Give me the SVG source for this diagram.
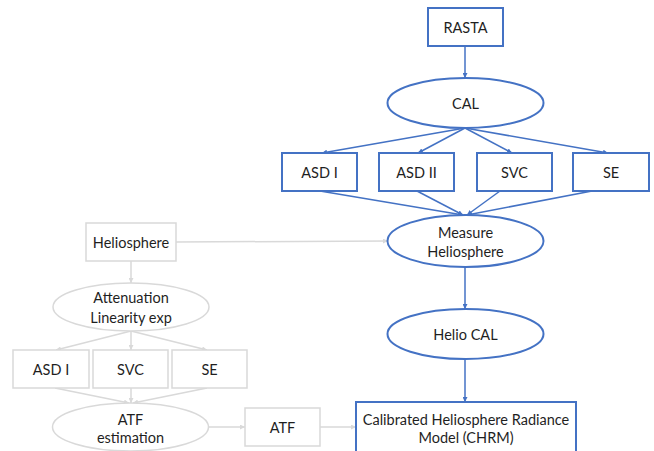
<svg xmlns="http://www.w3.org/2000/svg" width="654" height="451" viewBox="0 0 654 451">
<defs>
<style>
.b{fill:#fff;stroke:#4472C4;stroke-width:2}
.g{fill:#fff;stroke:#D9D9D9;stroke-width:1.5}
.t{font-family:Lato,"Open Sans","Liberation Sans",sans-serif;font-size:14.5px;fill:#1f1f1f;text-anchor:middle;dominant-baseline:central}
.cb{stroke:#4472C4;stroke-width:1.5;fill:none;marker-end:url(#ab)}
.cg{stroke:#D9D9D9;stroke-width:1.5;fill:none;marker-end:url(#ag)}
</style>
<marker id="ab" viewBox="0 0 10 10" refX="10" refY="5" markerWidth="5" markerHeight="5" orient="auto" markerUnits="userSpaceOnUse"><path d="M0,0L10,5L0,10z" fill="#4472C4"/></marker>
<marker id="ag" viewBox="0 0 10 10" refX="10" refY="5" markerWidth="5" markerHeight="5" orient="auto" markerUnits="userSpaceOnUse"><path d="M0,0L10,5L0,10z" fill="#D9D9D9"/></marker>
</defs>
<rect width="654" height="451" fill="#fff"/>
<g id="connectors">
<line class="cb" x1="465" y1="46" x2="465" y2="78"/>
<line class="cb" x1="465" y1="128" x2="322" y2="153"/>
<line class="cb" x1="465" y1="128" x2="418" y2="153"/>
<line class="cb" x1="465" y1="128" x2="512" y2="153"/>
<line class="cb" x1="465" y1="128" x2="608" y2="153"/>
<line class="cb" x1="320" y1="191" x2="463" y2="215"/>
<line class="cb" x1="417" y1="191" x2="463" y2="215"/>
<line class="cb" x1="500" y1="191" x2="467" y2="215"/>
<line class="cb" x1="592" y1="191" x2="467" y2="215"/>
<line class="cb" x1="465" y1="267" x2="465" y2="309"/>
<line class="cb" x1="465" y1="359" x2="465" y2="402"/>
<line class="cg" x1="176" y1="242" x2="388" y2="241"/>
<line class="cg" x1="131" y1="261" x2="131" y2="283"/>
<line class="cg" x1="131" y1="331" x2="56" y2="350"/>
<line class="cg" x1="131" y1="331" x2="131" y2="350"/>
<line class="cg" x1="131" y1="331" x2="207" y2="350"/>
<line class="cg" x1="55" y1="388" x2="129" y2="403"/>
<line class="cg" x1="131" y1="388" x2="131" y2="403"/>
<line class="cg" x1="207" y1="388" x2="133" y2="403"/>
<line class="cg" x1="209" y1="427" x2="245" y2="427"/>
<line class="cg" x1="320" y1="427" x2="356" y2="427"/>
</g>
<g id="rasta"><rect class="b" x="428" y="8" width="75" height="38"/><text class="t" x="465.5" y="27">RASTA</text></g>
<g id="cal"><ellipse class="b" cx="465.5" cy="103" rx="78" ry="25"/><text class="t" x="465.5" y="103">CAL</text></g>
<g id="asd1"><rect class="b" x="282" y="153" width="75" height="38"/><text class="t" x="319.5" y="172">ASD I</text></g>
<g id="asd2"><rect class="b" x="379" y="153" width="75" height="38"/><text class="t" x="416.5" y="172">ASD II</text></g>
<g id="svc"><rect class="b" x="477" y="153" width="75" height="38"/><text class="t" x="514.5" y="172">SVC</text></g>
<g id="se"><rect class="b" x="573" y="153" width="76" height="38"/><text class="t" x="611" y="172">SE</text></g>
<g id="measure"><ellipse class="b" cx="465.5" cy="241" rx="78" ry="26"/><text class="t" x="465.5" y="232">Measure</text><text class="t" x="465.5" y="251">Heliosphere</text></g>
<g id="heliocal"><ellipse class="b" cx="465.5" cy="334" rx="78" ry="25"/><text class="t" x="465.5" y="334">Helio CAL</text></g>
<g id="chrm"><rect class="b" x="356" y="402" width="220" height="60"/><text class="t" x="466" y="419">Calibrated Heliosphere Radiance</text><text class="t" x="466" y="437">Model (CHRM)</text></g>
<g id="helio"><rect class="g" x="86" y="223" width="90" height="38"/><text class="t" x="131" y="242">Heliosphere</text></g>
<g id="atten"><ellipse class="g" cx="131" cy="307" rx="78" ry="24"/><text class="t" x="131" y="297">Attenuation</text><text class="t" x="131" y="317">Linearity exp</text></g>
<g id="lasd1"><rect class="g" x="13" y="350" width="76" height="38"/><text class="t" x="51" y="369">ASD I</text></g>
<g id="lsvc"><rect class="g" x="93" y="350" width="75" height="38"/><text class="t" x="130.5" y="369">SVC</text></g>
<g id="lse"><rect class="g" x="172" y="350" width="75" height="38"/><text class="t" x="209.5" y="369">SE</text></g>
<g id="atfest"><ellipse class="g" cx="130.5" cy="427" rx="78" ry="24"/><text class="t" x="130.5" y="419">ATF</text><text class="t" x="130.5" y="437">estimation</text></g>
<g id="atf"><rect class="g" x="245" y="408" width="75" height="38"/><text class="t" x="282.5" y="427">ATF</text></g>
</svg>
